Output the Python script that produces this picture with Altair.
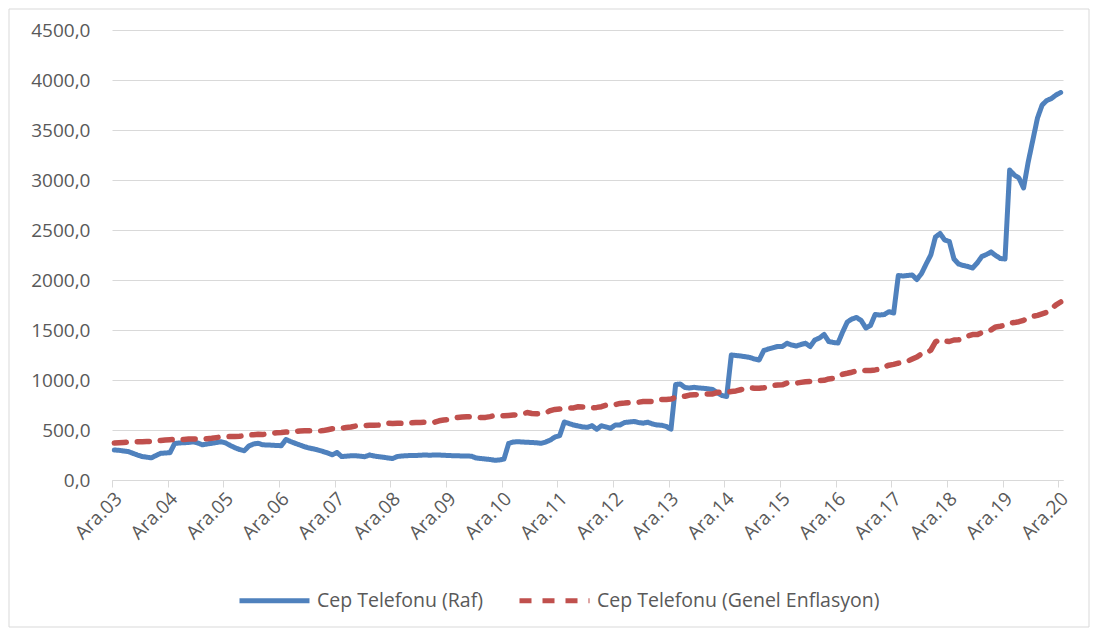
import altair as alt
import pandas as pd

# ---- data ----
year_labels = ["Ara.03", "Ara.04", "Ara.05", "Ara.06", "Ara.07", "Ara.08", "Ara.09",
               "Ara.10", "Ara.11", "Ara.12", "Ara.13", "Ara.14", "Ara.15", "Ara.16",
               "Ara.17", "Ara.18", "Ara.19", "Ara.20"]

series_names = ["Cep Telefonu (Raf)", "Cep Telefonu (Genel Enflasyon)"]

raf = [
    300,
    297, 290, 285, 267, 250, 235, 228, 222, 245, 267, 270, 273,
    365, 370, 373, 375, 383, 370, 352, 360, 367, 375, 383, 370,
    345, 323, 305, 292, 340, 360, 367, 352, 350, 348, 345, 343,
    405, 385, 367, 350, 333, 320, 310, 298, 285, 270, 252, 275,
    235, 238, 242, 243, 238, 233, 250, 240, 233, 228, 220, 215,
    235, 240, 243, 245, 245, 248, 250, 248, 250, 250, 247, 245,
    243, 242, 240, 240, 238, 220, 215, 210, 205, 197, 200, 210,
    365, 380, 383, 380, 377, 375, 372, 367, 380, 400, 430, 443,
    580, 565, 550, 540, 530, 527, 543, 507, 543, 530, 517, 550,
    550, 575, 580, 585, 575, 568, 578, 560, 550, 548, 535, 508,
    955, 960, 925, 920, 927, 920, 917, 912, 905, 870, 845, 835,
    1250, 1245, 1240, 1233, 1225, 1210, 1200, 1295, 1310, 1323, 1335, 1335,
    1367, 1350, 1340, 1355, 1367, 1335, 1400, 1420, 1455, 1385, 1375, 1370,
    1480, 1580, 1610, 1625, 1595, 1520, 1545, 1655, 1650, 1655, 1683, 1670,
    2045, 2040, 2045, 2050, 2005, 2065, 2160, 2250, 2430, 2465, 2400, 2385,
    2210, 2160, 2145, 2135, 2120, 2170, 2235, 2255, 2280, 2245, 2215, 2210,
    3100, 3050, 3020, 2920, 3180, 3400, 3620, 3750, 3795, 3815, 3850, 3875,
]

genel = [
    370,
    373, 375, 378, 381, 382, 382, 384, 385, 389, 396, 401, 403,
    405, 405, 406, 409, 411, 411, 409, 413, 417, 424, 430, 432,
    435, 436, 437, 443, 451, 453, 457, 455, 461, 467, 473, 474,
    479, 481, 485, 491, 493, 492, 489, 489, 494, 503, 513, 514,
    518, 525, 530, 539, 547, 545, 548, 547, 549, 564, 568, 566,
    568, 566, 572, 572, 576, 576, 578, 576, 578, 592, 600, 603,
    616, 625, 629, 633, 630, 627, 624, 626, 634, 645, 645, 643,
    646, 650, 653, 659, 675, 665, 662, 667, 672, 694, 706, 710,
    714, 718, 721, 732, 730, 724, 722, 726, 733, 748, 751, 754,
    766, 769, 774, 777, 778, 784, 786, 785, 791, 805, 805, 809,
    825, 829, 838, 849, 852, 855, 859, 860, 861, 877, 879, 875,
    885, 891, 902, 917, 922, 917, 918, 922, 930, 944, 950, 952,
    969, 969, 969, 976, 982, 986, 998, 995, 997, 1011, 1016, 1033,
    1058, 1067, 1078, 1092, 1097, 1094, 1096, 1101, 1108, 1131, 1148, 1156,
    1168, 1176, 1188, 1210, 1230, 1262, 1269, 1298, 1380, 1405, 1390, 1385,
    1400, 1402, 1416, 1440, 1454, 1454, 1474, 1487, 1501, 1531, 1537, 1548,
    1569, 1574, 1583, 1597, 1619, 1637, 1646, 1661, 1677, 1713, 1752, 1780,
]

months = list(range(len(raf)))

df = pd.DataFrame({
    "month": months + months,
    "value": raf + genel,
    "series": [series_names[0]] * len(raf) + [series_names[1]] * len(genel),
})

FONT = "Open Sans"
TXT = "#595959"
GRID = "#D9D9D9"

tick_vals = [k * 12 - 0.5 for k in range(len(year_labels))]
label_arr = "[" + ",".join("'" + s + "'" for s in year_labels) + "]"

x_enc = alt.X(
    "month:Q",
    scale=alt.Scale(domain=[-0.5, len(raf) - 0.5], nice=False, zero=False),
    axis=alt.Axis(
        values=tick_vals,
        labelExpr=label_arr + "[round((datum.value + 0.5) / 12)]",
        labelAngle=-45, labelAlign="right", labelBaseline="top",
        labelFlush=False, labelOverlap=False,
        grid=False, domainColor=GRID, tickColor=GRID, tickSize=7,
        labelPadding=2, title=None,
    ),
)

y_enc = alt.Y(
    "value:Q",
    scale=alt.Scale(domain=[0, 4500], nice=False),
    axis=alt.Axis(
        values=list(range(0, 4501, 500)),
        labelExpr="replace(format(datum.value, '.1f'), '.', ',')",
        grid=True, gridColor=GRID, domain=False, ticks=False, tickSize=0,
        labelPadding=22, title=None,
    ),
)

color_enc = alt.Color(
    "series:N",
    scale=alt.Scale(domain=series_names, range=["#4F81BD", "#C0504D"]),
    title=None,
)
dash_enc = alt.StrokeDash(
    "series:N",
    scale=alt.Scale(domain=series_names, range=[[1, 0], [12, 11]]),
    title=None,
)

base = alt.Chart(df).encode(x=x_enc, y=y_enc, color=color_enc, strokeDash=dash_enc)

blue = base.transform_filter(alt.datum.series == series_names[0]).mark_line(
    strokeWidth=5, strokeJoin="round", strokeCap="round"
)
red = base.transform_filter(alt.datum.series == series_names[1]).mark_line(
    strokeWidth=5.5, strokeJoin="round", strokeCap="round"
)

frame = alt.Chart(alt.Data(values=[{"f": 1}])).mark_rect(
    fillOpacity=0, stroke=GRID, strokeWidth=1
).encode(x=alt.value(-103), x2=alt.value(977), y=alt.value(-21), y2=alt.value(597))

chart = (
    alt.layer(frame, blue, red)
    .properties(
        width=951, height=450,
        autosize=alt.AutoSizeParams(type="none"),
        padding={"left": 104, "top": 22, "right": 27, "bottom": 148},
    )
    .configure(background="white", font=FONT)
    .configure_view(stroke=None)
    .configure_axis(labelFont=FONT, labelFontSize=19, labelColor=TXT)
    .configure_legend(
        orient="none", legendX=125, legendY=533, direction="horizontal",
        symbolType="stroke", symbolSize=4900, symbolStrokeWidth=5,
        labelFont=FONT, labelFontSize=19.5, labelColor=TXT,
        labelOffset=5, columnPadding=26, padding=0, labelLimit=400,
    )
)

chart.save("out.html", embed_options={"renderer": "svg", "actions": False})
